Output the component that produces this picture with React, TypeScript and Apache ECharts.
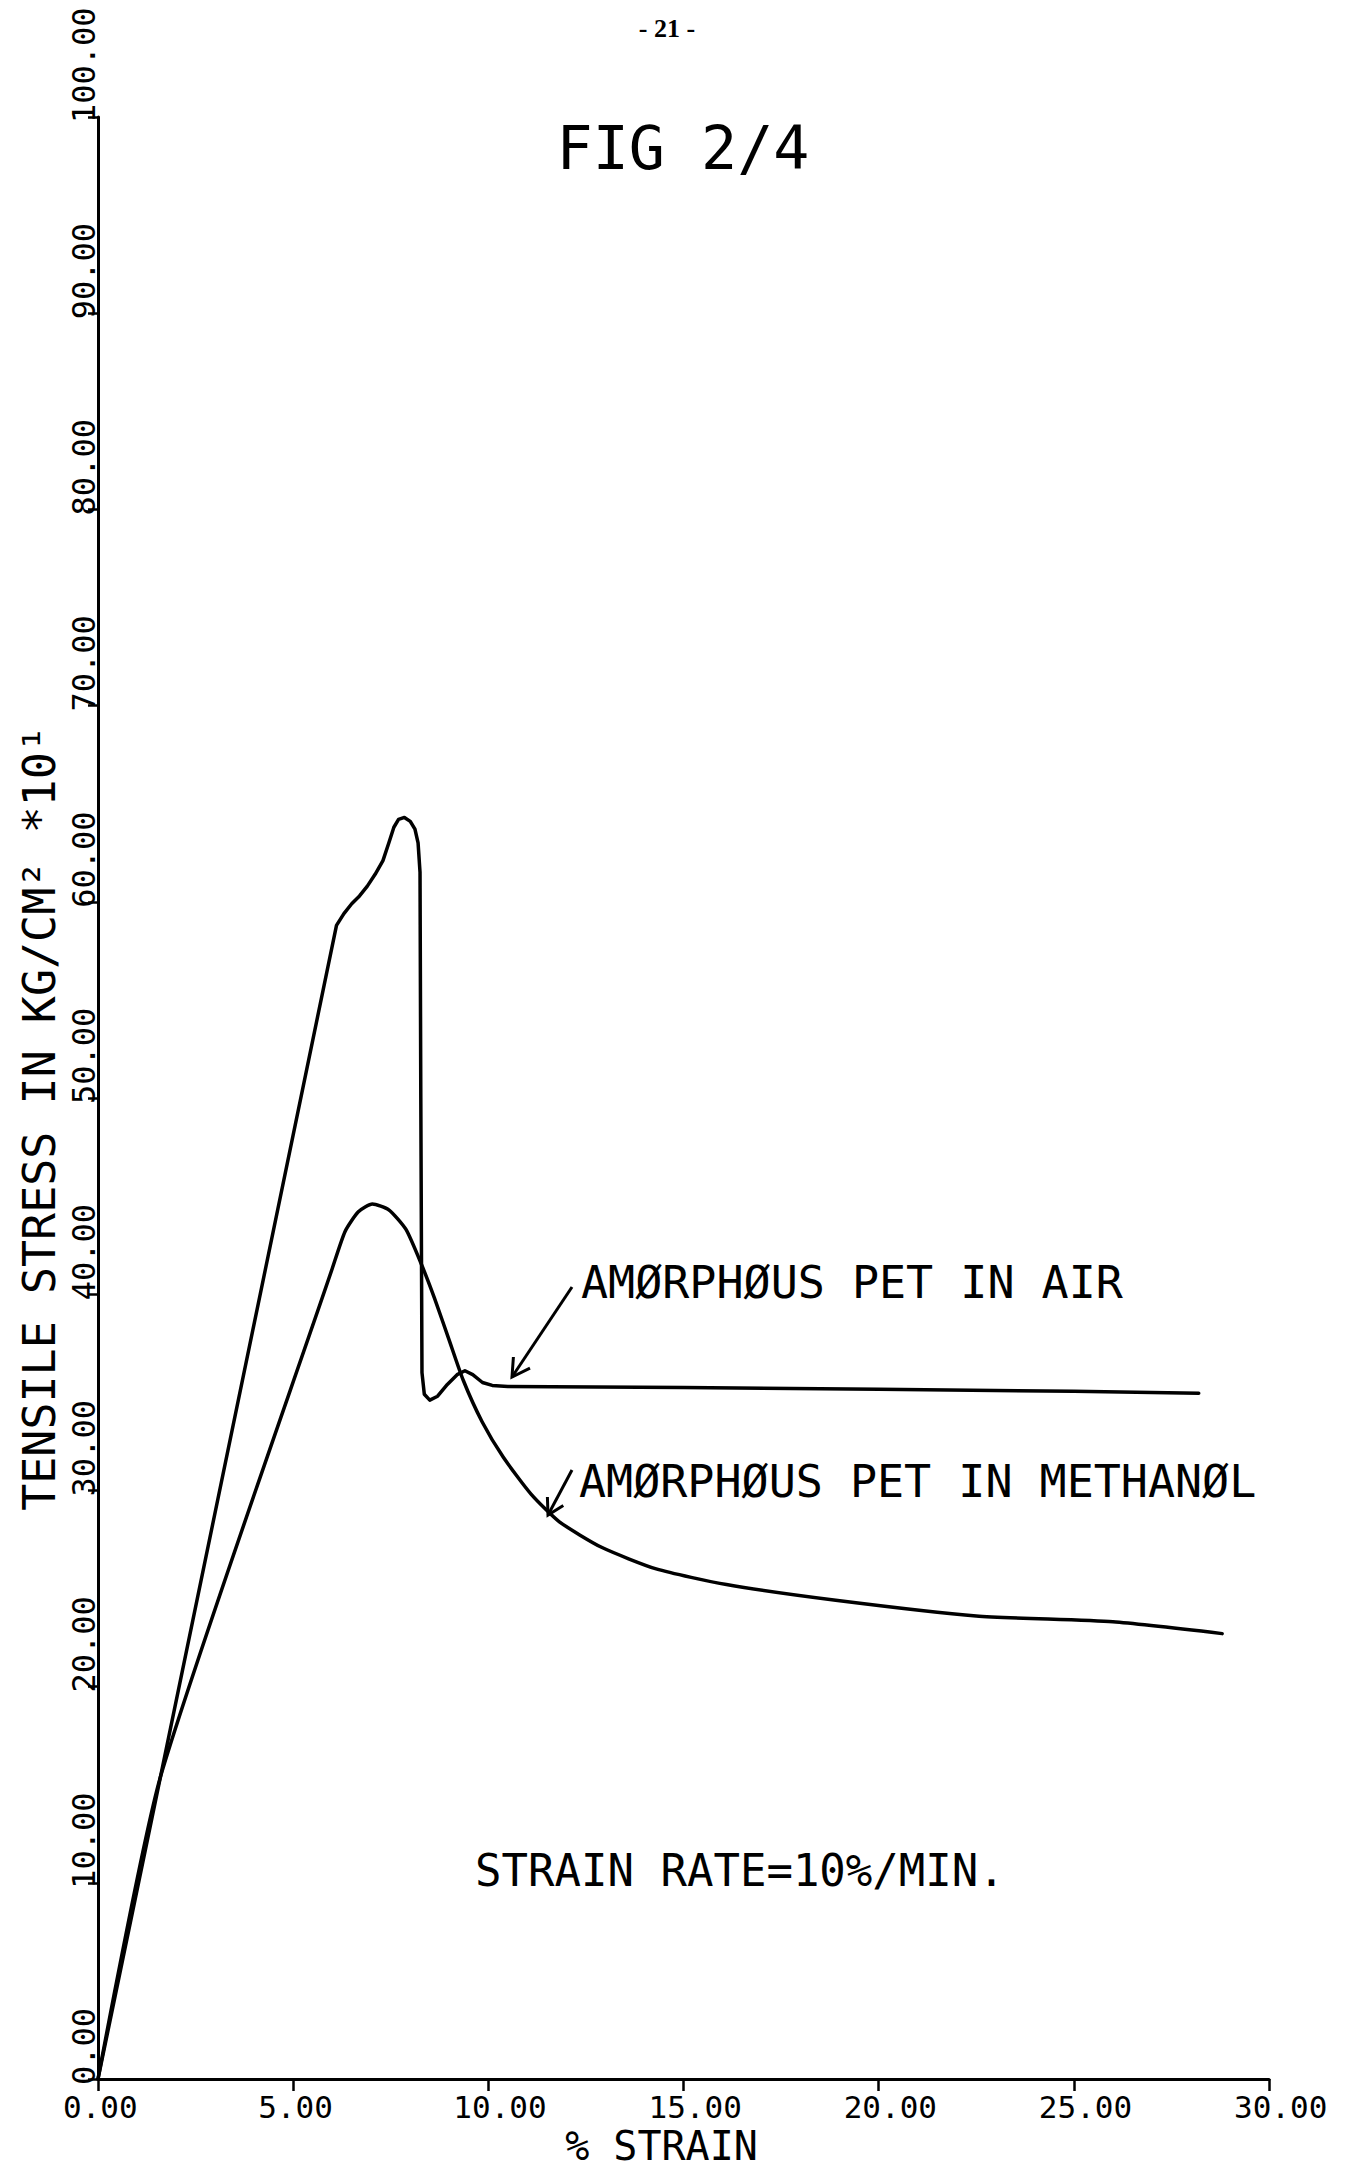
import React, { useEffect, useRef } from "react";
import * as echarts from "echarts";

// ---- data ----
const airStrain = [0, 6.11, 6.3, 6.5, 6.7, 6.9, 7.1, 7.3, 7.45, 7.58, 7.7, 7.85, 8.0, 8.12, 8.2, 8.25, 8.27, 8.3, 8.36, 8.5, 8.7, 8.95, 9.2, 9.4, 9.6, 9.85, 10.1, 10.5, 15, 20, 25, 28.2];
const airStress = [0, 58.8, 59.4, 59.9, 60.3, 60.8, 61.4, 62.1, 63.0, 63.8, 64.2, 64.3, 64.1, 63.7, 63.0, 61.5, 50, 36, 34.9, 34.6, 34.8, 35.4, 35.9, 36.1, 35.9, 35.5, 35.35, 35.3, 35.25, 35.15, 35.05, 34.95];

const methStrain = [0, 1.6, 6.0, 6.33, 6.67, 7.03, 7.45, 7.89, 8.29, 8.62, 8.99, 9.36, 9.84, 10.38, 11.1, 11.82, 12.9, 14.3, 16.1, 18.9, 22.5, 26.0, 28.8];
const methStress = [0, 15.4, 41.3, 43.2, 44.2, 44.6, 44.3, 43.3, 41.5, 39.8, 37.7, 35.6, 33.5, 31.7, 29.8, 28.4, 27.1, 26.0, 25.2, 24.4, 23.6, 23.3, 22.7];

const xMin = 0, xMax = 30, xStep = 5;
const yMin = 0, yMax = 100, yStep = 10;

const seriesNames = ["AMØRPHØUS PET IN AIR", "AMØRPHØUS PET IN METHANØL"];
const xTitle = "% STRAIN";
const yTitle = "TENSILE STRESS IN KG/CM² *10¹";
const figTitle = "FIG 2/4";
const noteText = "STRAIN RATE=10%/MIN.";
const pageNo = "- 21 -";

const MONO = "DejaVu Sans Mono";

export default function App() {
  const ref = useRef<HTMLDivElement>(null);
  useEffect(() => {
    document.body.style.margin = "0";
    const chart = echarts.init(ref.current as HTMLDivElement, null, { renderer: "svg" });
    const air = airStrain.map((x, i) => [x, airStress[i]]);
    const meth = methStrain.map((x, i) => [x, methStress[i]]);
    const fmt = (v: number) => v.toFixed(2);
    chart.setOption({
      animation: false,
      backgroundColor: "#ffffff",
      textStyle: { fontFamily: MONO, color: "#000" },
      grid: { left: 98, top: 117, width: 1171, height: 1962, containLabel: false, outerBoundsMode: "none" },
      xAxis: {
        type: "value",
        min: xMin,
        max: xMax,
        interval: xStep,
        axisLine: { show: true, onZero: false, lineStyle: { color: "#000", width: 3 } },
        axisTick: { show: true, length: 12, lineStyle: { color: "#000", width: 2.5 } },
        splitLine: { show: false },
        axisLabel: {
          formatter: fmt,
          fontSize: 31,
          fontFamily: MONO,
          color: "#000",
          align: "left",
          verticalAlign: "middle",
          margin: 28,
          padding: [0, 0, 0, -35],
          showMinLabel: true,
          showMaxLabel: true,
        },
        name: xTitle,
        nameLocation: "middle",
        nameGap: 67,
        nameMoveOverlap: false,
        nameTextStyle: { fontSize: 40, fontFamily: MONO, color: "#000", align: "center", verticalAlign: "middle", padding: [0, 44, 0, 0] },
      },
      yAxis: {
        type: "value",
        min: yMin,
        max: yMax,
        interval: yStep,
        axisLine: { show: true, onZero: false, lineStyle: { color: "#000", width: 3 } },
        axisTick: { show: true, length: 10, lineStyle: { color: "#000", width: 2.5 } },
        splitLine: { show: false },
        axisLabel: {
          formatter: fmt,
          rotate: 90,
          fontSize: 32,
          fontFamily: MONO,
          color: "#000",
          align: "left",
          verticalAlign: "middle",
          margin: 14,
          padding: [0, 0, 0, -6],
          showMinLabel: true,
          showMaxLabel: true,
        },
        name: yTitle,
        nameLocation: "middle",
        nameRotate: 90,
        nameGap: 59,
        nameMoveOverlap: false,
        nameTextStyle: { fontSize: 45, fontFamily: MONO, color: "#000", align: "center", verticalAlign: "middle", padding: [0, 40, 0, 0] },
      },
      series: [
        {
          name: seriesNames[0],
          type: "line",
          data: air,
          showSymbol: false,
          smooth: false,
          lineStyle: { color: "#000", width: 3.5, join: "round", cap: "round" },
        },
        {
          name: seriesNames[1],
          type: "line",
          data: meth,
          showSymbol: false,
          smooth: 0.2,
          lineStyle: { color: "#000", width: 3.5, join: "round", cap: "round" },
        },
      ],
      graphic: [
        { type: "text", style: { text: pageNo, x: 667, y: 28, align: "center", verticalAlign: "middle", fontSize: 26, fontWeight: "bold", fontFamily: "Liberation Serif", fill: "#000" } },
        { type: "text", style: { text: figTitle, x: 683, y: 148, align: "center", verticalAlign: "middle", fontSize: 60, fontFamily: MONO, fill: "#000" } },
        { type: "text", style: { text: seriesNames[0], x: 581, y: 1282, align: "left", verticalAlign: "middle", fontSize: 45, fontFamily: MONO, fill: "#000" } },
        { type: "text", style: { text: seriesNames[1], x: 579, y: 1481, align: "left", verticalAlign: "middle", fontSize: 45, fontFamily: MONO, fill: "#000" } },
        { type: "text", style: { text: noteText, x: 475, y: 1870, align: "left", verticalAlign: "middle", fontSize: 44, fontFamily: MONO, fill: "#000" } },
        { type: "line", shape: { x1: 572, y1: 1287, x2: 512, y2: 1377 }, style: { stroke: "#000", lineWidth: 3 } },
        { type: "polyline", shape: { points: [[513.4, 1357], [512, 1377], [530, 1368.2]] }, style: { stroke: "#000", lineWidth: 3, fill: "none" } },
        { type: "line", shape: { x1: 572, y1: 1470, x2: 548, y2: 1515 }, style: { stroke: "#000", lineWidth: 3 } },
        { type: "polyline", shape: { points: [[547.4, 1497], [548, 1515], [563.3, 1505.5]] }, style: { stroke: "#000", lineWidth: 3, fill: "none" } },
      ],
    });
    return () => chart.dispose();
  }, []);
  return <div ref={ref} style={{ width: 1347, height: 2170, background: "#fff" }} />;
}
